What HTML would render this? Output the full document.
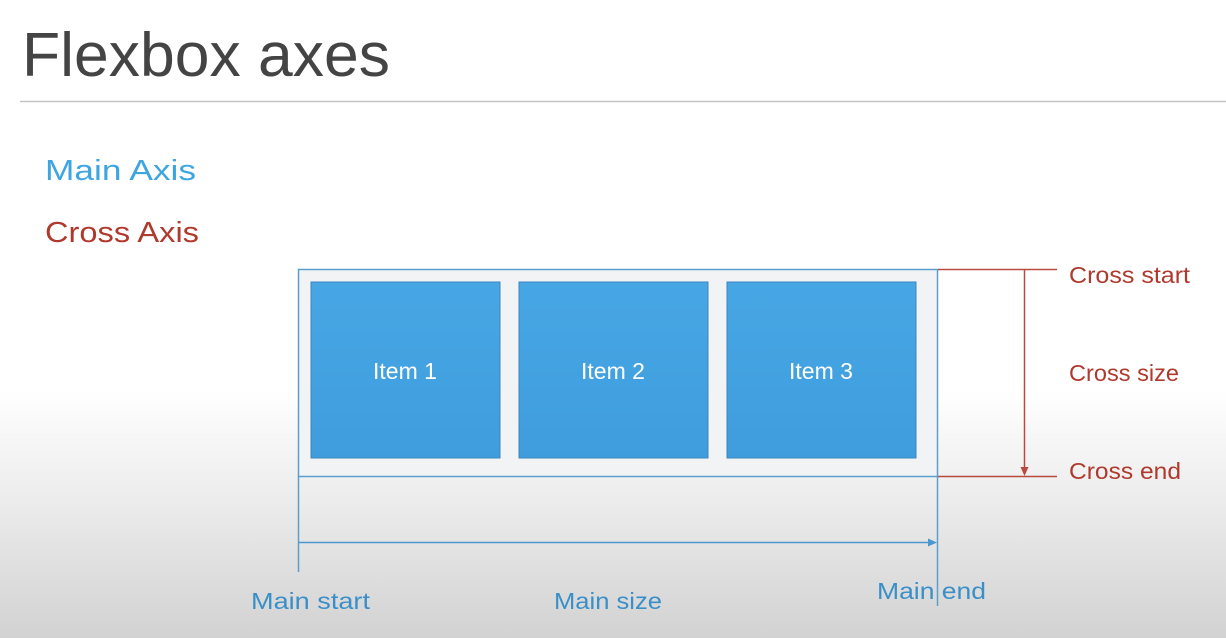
<!DOCTYPE html>
<html><head><style>
html,body{margin:0;padding:0}
body{width:1226px;height:638px;overflow:hidden;background:linear-gradient(to bottom,#fff 0px,#fff 390px,#ececec 500px,#d2d2d2 638px)}
svg{display:block}
text{font-family:"Liberation Sans",sans-serif}
</style></head><body>
<svg width="1226" height="638" viewBox="0 0 1226 638" xmlns="http://www.w3.org/2000/svg">
<defs>
<linearGradient id="ig" x1="0" y1="0" x2="0" y2="1"><stop offset="0" stop-color="#47a6e4"/><stop offset="1" stop-color="#3f9ddd"/></linearGradient>
</defs>
<text x="22" y="76" font-size="62" fill="#444" textLength="368" lengthAdjust="spacingAndGlyphs">Flexbox axes</text>
<line x1="20" y1="101.5" x2="1226" y2="101.5" stroke="#c4c4c4" stroke-width="1.5"/>
<text x="45" y="180" font-size="29" fill="#3ea5e0" textLength="151" lengthAdjust="spacingAndGlyphs">Main Axis</text>
<text x="45" y="242" font-size="29" fill="#b0392d" textLength="154" lengthAdjust="spacingAndGlyphs">Cross Axis</text>
<rect x="298.5" y="269.5" width="639" height="207" fill="#f2f3f4" stroke="#5a9fcf" stroke-width="1.5"/>
<rect x="311" y="282" width="189" height="176" fill="url(#ig)" stroke="#3a86bb"/>
<rect x="519" y="282" width="189" height="176" fill="url(#ig)" stroke="#3a86bb"/>
<rect x="727" y="282" width="189" height="176" fill="url(#ig)" stroke="#3a86bb"/>
<g font-size="23" fill="#fff" text-anchor="middle">
<text x="405" y="379">Item 1</text><text x="613" y="379">Item 2</text><text x="821" y="379">Item 3</text>
</g>
<line x1="298.5" y1="476" x2="298.5" y2="572" stroke="#5a9fcf" stroke-width="1.5"/>
<line x1="937.5" y1="476" x2="937.5" y2="606" stroke="#5a9fcf" stroke-width="1.5"/>
<line x1="299" y1="542.5" x2="930" y2="542.5" stroke="#4a98cf" stroke-width="1.5"/>
<polygon points="937,542.5 928,538.5 928,546.5" fill="#4a98cf"/>
<line x1="938" y1="269.5" x2="1057" y2="269.5" stroke="#b84a40" stroke-width="1.5"/>
<line x1="938" y1="476.5" x2="1057" y2="476.5" stroke="#b84a40" stroke-width="1.5"/>
<line x1="1024.5" y1="270" x2="1024.5" y2="468" stroke="#b84a40" stroke-width="1.5"/>
<polygon points="1024.5,476 1020.5,467 1028.5,467" fill="#b84a40"/>
<g font-size="23" fill="#b0392d">
<text x="1069" y="283" textLength="121" lengthAdjust="spacingAndGlyphs">Cross start</text>
<text x="1069" y="381" textLength="110" lengthAdjust="spacingAndGlyphs">Cross size</text>
<text x="1069" y="479" textLength="112" lengthAdjust="spacingAndGlyphs">Cross end</text>
</g>
<g font-size="23" fill="#3a8fc8">
<text x="251" y="609" textLength="119" lengthAdjust="spacingAndGlyphs">Main start</text>
<text x="554" y="609" textLength="108" lengthAdjust="spacingAndGlyphs">Main size</text>
<text x="877" y="599" textLength="109" lengthAdjust="spacingAndGlyphs">Main end</text>
</g>
</svg>
</body></html>
